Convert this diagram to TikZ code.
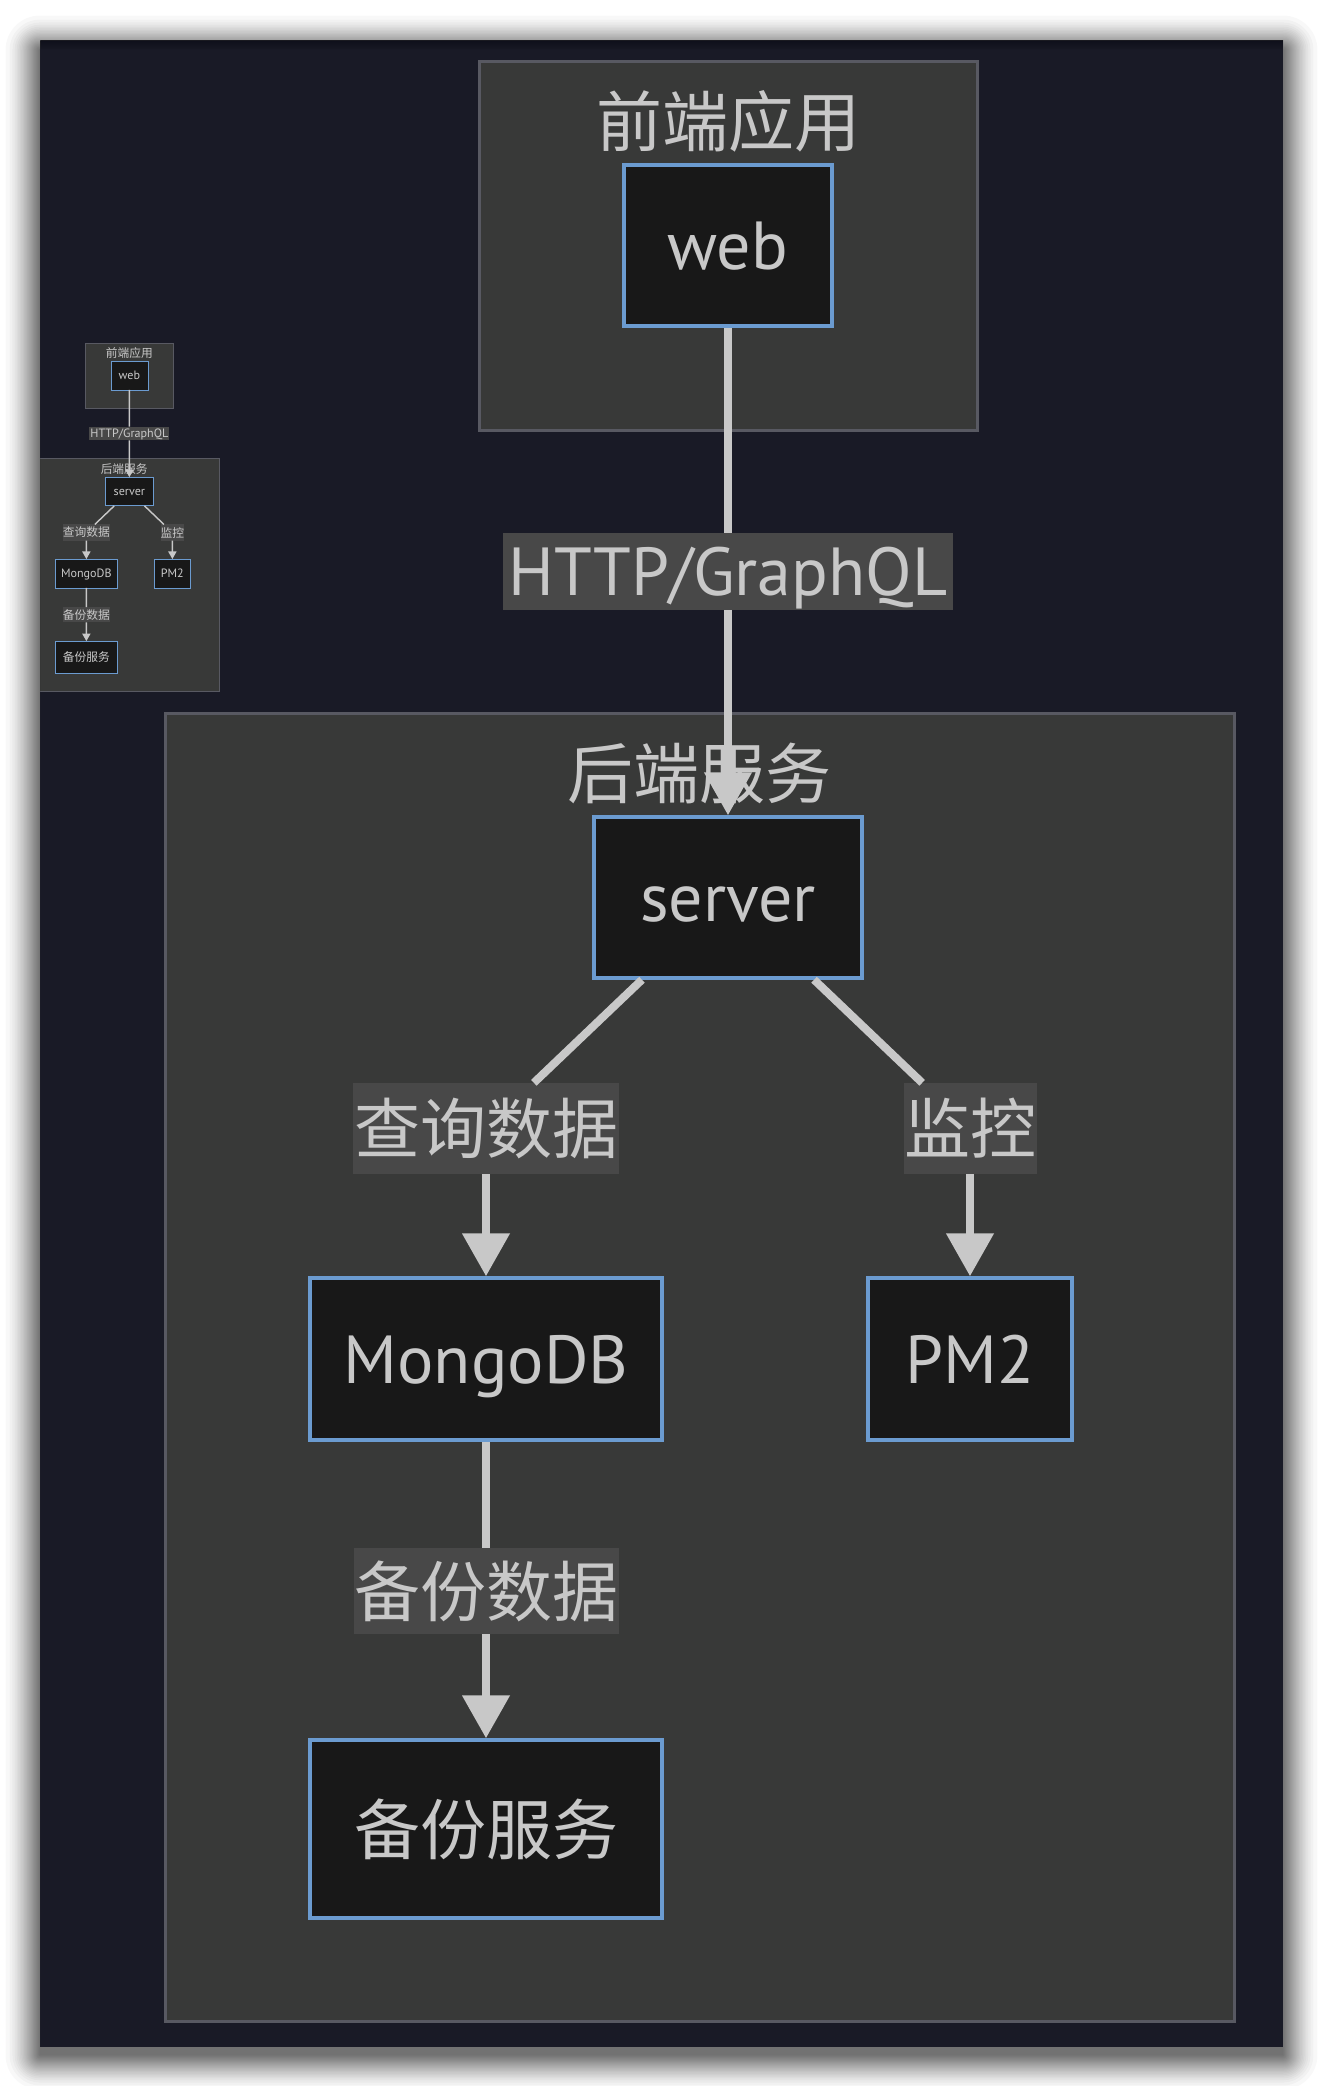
\documentclass[tikz,border=0pt]{standalone}
\usepackage{fontspec}
\setmainfont{PT Sans}
\newfontfamily\cjk{Noto Sans CJK SC}
\usetikzlibrary{arrows.meta,calc}
\definecolor{bgdark}{RGB}{25,26,38}
\definecolor{grpfill}{RGB}{56,57,56}
\definecolor{grpborder}{RGB}{88,89,98}
\definecolor{nodefill}{RGB}{24,24,24}
\definecolor{nodeborder}{RGB}{107,155,208}
\definecolor{txtcol}{RGB}{200,200,200}
\definecolor{lblfill}{RGB}{72,72,72}
\definecolor{edgecol}{RGB}{200,200,200}
\tikzset{
  grp/.style={rectangle, draw=grpborder, fill=grpfill, line width=3pt*\dsc, inner sep=0pt},
  box/.style={rectangle, draw=nodeborder, fill=nodefill, line width=3.5pt*\dsc, inner sep=0pt, text=txtcol},
  lbl/.style={rectangle, fill=lblfill, inner sep=0pt, text=txtcol},
  lat/.style={font=\fontsize{68}{80}\selectfont, text height=48pt, text depth=0pt},
  cjkt/.style={font=\cjk\fontsize{66}{78}\selectfont},
  ttl/.style={cjkt, text=txtcol, inner sep=0pt},
  edge/.style={draw=edgecol, line width=8pt*\dsc},
  tip/.style={-{Triangle[length=\arl pt, width=\arw pt]}},
}
\newcommand\drawdiagram[2]{%
  \pgfmathsetmacro\dsc{#2}%
  \pgfmathsetmacro\arl{43*#2}%
  \pgfmathsetmacro\arw{46*#2}%
  % groups
  \node[grp, minimum width=498pt, minimum height=369pt] (#1fe) at (728,245.5) {};
  \node[grp, minimum width=1069pt, minimum height=1308pt] (#1be) at (699.5,1367) {};
  \node[ttl] (#1fetitle) at (728,121) {前端应用};
  \node[ttl] (#1betitle) at (699,773) {后端服务};
  % nodes
  \node[box, lat, minimum width=208pt, minimum height=161pt] (#1web) at (728,245.5) {web};
  \node[box, lat, minimum width=268pt, minimum height=161pt] (#1server) at (728,897.5) {server};
  \node[box, lat, minimum width=352pt, minimum height=162pt] (#1mongo) at (486,1359) {MongoDB};
  \node[box, lat, minimum width=204pt, minimum height=162pt] (#1pm) at (970,1359) {PM2};
  \node[box, cjkt, minimum width=352pt, minimum height=178pt] (#1bk) at (486,1829) {备份服务};
  % edge labels
  \node[lbl, lat, minimum width=450pt, minimum height=77pt] (#1lh) at (728,571.5) {HTTP/GraphQL};
  \node[lbl, cjkt, minimum width=266pt, minimum height=91pt] (#1lq) at (486,1128.5) {查询数据};
  \node[lbl, cjkt, minimum width=133pt, minimum height=91pt] (#1lm) at (970,1128.5) {监控};
  \node[lbl, cjkt, minimum width=265pt, minimum height=86pt] (#1lb) at (486,1591) {备份数据};
  % edges
  \draw[edge] (#1web) -- (#1lh);
  \draw[edge, tip] (#1lh) -- (#1server);
  \draw[edge] ($(#1server.south west)!0.183!(#1server.south east)$) -- (#1lq);
  \draw[edge, tip] (#1lq) -- (#1mongo);
  \draw[edge] ($(#1server.south west)!0.817!(#1server.south east)$) -- (#1lm);
  \draw[edge, tip] (#1lm) -- (#1pm);
  \draw[edge] (#1mongo) -- (#1lb);
  \draw[edge, tip] (#1lb) -- (#1bk);
}
\begin{document}
\begin{tikzpicture}[x=1pt, y=-1pt]
  \useasboundingbox (0,0) rectangle (1322,2086);
  \fill[bgdark] (40,40) rectangle (1283,2047);
  % minimap
  \begin{scope}[shift={(0,332)}, scale=0.1777, transform shape]
    \drawdiagram{m}{0.1777}
  \end{scope}
  % main diagram
  \drawdiagram{}{1}
  % white page and soft drop shadow around the dark canvas
  \fill[white, even odd rule] (0,0) rectangle (1322,2086) (40,40) rectangle (1283,2047);
  \foreach \k in {1,...,26} {
    \pgfmathsetmacro\e{40*(1-sqrt((\k-0.5)/26))}
    \fill[black, opacity=0.026, even odd rule]
      [rounded corners=\e pt] ({40-\e}, {50-\e}) rectangle ({1283+\e}, {2055+\e})
      [sharp corners] (40,40) rectangle (1283,2047);
  }
\end{tikzpicture}
\end{document}
